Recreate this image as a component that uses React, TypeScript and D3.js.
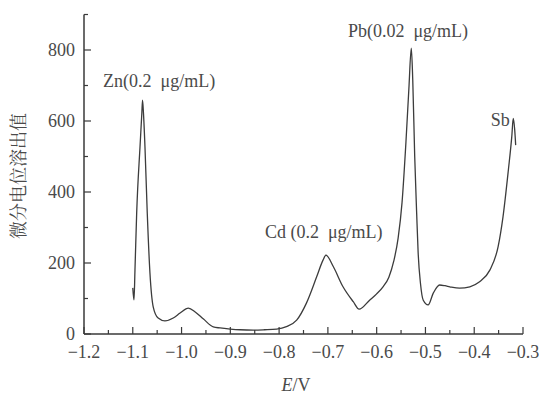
import React from "react";
import * as d3 from "d3";

const potentials = [
  -1.1, -1.0975, -1.0955, -1.092, -1.0852, -1.0815, -1.08, -1.078, -1.075, -1.0703, -1.0648, -1.058, -1.048, -1.034,
  -1.017, -1.003, -0.986, -0.972, -0.955, -0.935, -0.921, -0.9, -0.88, -0.853, -0.83, -0.805, -0.785, -0.764, -0.744,
  -0.723, -0.71, -0.704, -0.689, -0.669, -0.648, -0.636, -0.614, -0.6, -0.587, -0.575, -0.565, -0.556, -0.548, -0.54,
  -0.534, -0.529, -0.526, -0.522, -0.518, -0.515, -0.51, -0.5045, -0.4945, -0.484, -0.471, -0.46, -0.45, -0.43, -0.409,
  -0.389, -0.368, -0.351, -0.341, -0.33, -0.323, -0.32, -0.317, -0.315,
];
const signal = [
  130, 96, 180, 341, 527, 620, 659, 620, 527, 340, 172, 76, 45, 37,
  45, 59, 73, 62, 42, 20, 17, 14, 12, 11, 12, 14, 21, 39, 87,
  161, 208, 222, 190, 133, 91, 70, 96, 113, 133, 160, 205, 270, 370, 540,
  690, 805, 715, 500, 340, 230, 140, 95, 82, 115, 138, 136, 133, 129, 133,
  147, 180, 246, 330, 462, 556, 607, 575, 532,
];

const xTicks = [-1.2, -1.1, -1.0, -0.9, -0.8, -0.7, -0.6, -0.5, -0.4, -0.3];
const xMinorTicks = [-1.15, -1.05, -0.95, -0.85, -0.75, -0.65, -0.55, -0.45, -0.35];
const yTicks = [0, 200, 400, 600, 800];
const yMinorTicks = [100, 300, 500, 700, 900];

const peakLabels = ["Zn(0.2  μg/mL)", "Cd (0.2  μg/mL)", "Pb(0.02  μg/mL)", "Sb"];
const peakLabelE = [-1.161, -0.829, -0.659, -0.366];
const peakLabelV = [695, 270, 838, 585];

const yTitle = "微分电位溶出值";

export default function App() {
  const W = 539, H = 394;
  const x = d3.scaleLinear().domain([-1.2, -0.3]).range([84, 523]);
  const y = d3.scaleLinear().domain([0, 900]).range([334, 14.5]);
  const pts = potentials.map((e, i) => [e, signal[i]] as [number, number]);
  const line = d3.line<[number, number]>().x(d => x(d[0])).y(d => y(d[1])).curve(d3.curveMonotoneX);
  const textCol = "#4a4a4a";
  const axisCol = "#3a3a3a";
  const serif = { fontFamily: '"Liberation Serif"' };
  const fmt = (v: number) => (v < 0 ? "\u2212" : "") + Math.abs(v).toFixed(1);
  return (
    <svg width={W} height={H} style={{ position: "absolute", left: 0, top: 0, background: "#fff" }}>
      <line x1={x(-1.2)} x2={x(-1.2)} y1={y(0)} y2={y(900)} stroke={axisCol} strokeWidth={1.5} />
      <line x1={x(-1.2)} x2={x(-0.3)} y1={y(0)} y2={y(0)} stroke={axisCol} strokeWidth={1.5} />
      {xTicks.map(t => (
        <g key={"xt" + t}>
          <line x1={x(t)} x2={x(t)} y1={y(0)} y2={y(0) - 7} stroke={axisCol} strokeWidth={1.2} />
          <text x={x(t)} y={y(0) + 24} textAnchor="middle" style={serif} fontSize={18} fill={textCol}>{fmt(t)}</text>
        </g>
      ))}
      {xMinorTicks.map(t => (
        <line key={"xm" + t} x1={x(t)} x2={x(t)} y1={y(0)} y2={y(0) - 4} stroke={axisCol} strokeWidth={1.2} />
      ))}
      {yTicks.map(t => (
        <g key={"yt" + t}>
          <line x1={x(-1.2)} x2={x(-1.2) + 7} y1={y(t)} y2={y(t)} stroke={axisCol} strokeWidth={1.2} />
          <text x={x(-1.2) - 9} y={y(t) + 6} textAnchor="end" style={serif} fontSize={18} fill={textCol}>{t}</text>
        </g>
      ))}
      {yMinorTicks.map(t => (
        <line key={"ym" + t} x1={x(-1.2)} x2={x(-1.2) + 4} y1={y(t)} y2={y(t)} stroke={axisCol} strokeWidth={1.2} />
      ))}
      <path d={line(pts) || ""} fill="none" stroke="#3c3c3c" strokeWidth={1.3} strokeLinejoin="round" />
      {peakLabels.map((s, i) => (
        <text key={s} x={x(peakLabelE[i])} y={y(peakLabelV[i])} style={{ ...serif, whiteSpace: "pre" }} fontSize={18} fill={textCol}>{s}</text>
      ))}
      <text transform={`translate(25,176) rotate(-90)`} textAnchor="middle" style={{ fontFamily: '"Noto Serif CJK SC"' }} fontSize={18} fill={textCol}>{yTitle}</text>
      <text x={296} y={391} textAnchor="middle" style={serif} fontSize={18} fill={textCol}>
        <tspan fontStyle="italic">E</tspan>/V
      </text>
    </svg>
  );
}
